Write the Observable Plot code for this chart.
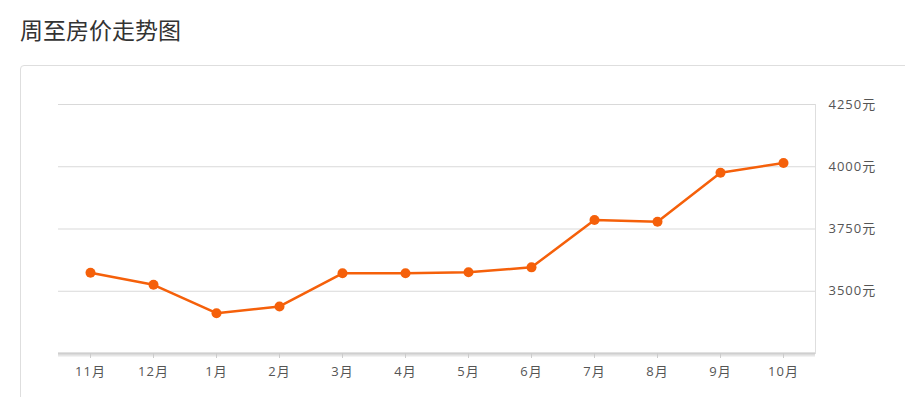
<!DOCTYPE html>
<html>
<head>
<meta charset="utf-8">
<script src="https://cdn.jsdelivr.net/npm/d3@7"></script>
<script src="https://cdn.jsdelivr.net/npm/@observablehq/plot@0.6"></script>
<style>
  html, body { margin: 0; padding: 0; background: #fff; }
  body { position: relative; width: 905px; height: 397px; overflow: hidden; font-family: "Noto Sans CJK SC", "Open Sans", sans-serif; }
  #title { position: absolute; left: 20px; top: 12px; font-size: 23px; color: #333; font-weight: 400; }
  #panel { position: absolute; left: 20px; top: 65px; width: 900px; height: 400px; border: 1px solid #dedede; border-radius: 4px; box-sizing: border-box; }
  #chart { position: absolute; left: 0; top: 0; }
  #chart text { letter-spacing: 1px; }
</style>
</head>
<body>
<div id="title">周至房价走势图</div>
<div id="panel"></div>
<div id="chart"></div>
<script>
const months = ["11月","12月","1月","2月","3月","4月","5月","6月","7月","8月","9月","10月"];
const prices = [3574, 3526, 3412, 3439, 3572, 3572, 3576, 3596, 3786, 3779, 3976, 4015];
const yTicks = [3500, 3750, 4000, 4250];
const yDomain = [3250, 4250];

const data = months.map((m, i) => ({month: m, price: prices[i]}));

const chart = Plot.plot({
  width: 905,
  height: 397,
  marginLeft: 58,
  marginRight: 90,
  marginTop: 104,
  marginBottom: 44,
  style: { background: "transparent", fontFamily: "'Open Sans', 'Noto Sans CJK SC', sans-serif", fontSize: "13px", color: "#555" },
  x: { type: "point", domain: months, padding: 0.5 },
  y: { domain: yDomain },
  marks: [
    Plot.gridY(yTicks, { stroke: "#d9d9d9", strokeOpacity: 1 }),
    Plot.frame({ anchor: "right", stroke: "#dedede" }),
    Plot.ruleY([yDomain[0]], { stroke: "#e6e6e6", strokeWidth: 4, dy: 1 }),
    Plot.ruleY([yDomain[0]], { stroke: "#cfcfcf", strokeWidth: 2 }),
    Plot.axisX({ tickSize: 5, tickPadding: 8, stroke: "#cccccc", fill: "#555", fontSize: 13, label: null }),
    Plot.axisY(yTicks, { anchor: "right", tickSize: 0, tickPadding: 13, tickFormat: d => d + "元", fill: "#555", fontSize: 13, label: null }),
    Plot.line(data, { x: "month", y: "price", stroke: "#f5600a", strokeWidth: 2.5 }),
    Plot.dot(data, { x: "month", y: "price", r: 5, fill: "#f5600a", stroke: "none" })
  ]
});
document.getElementById("chart").appendChild(chart);
</script>
</body>
</html>
